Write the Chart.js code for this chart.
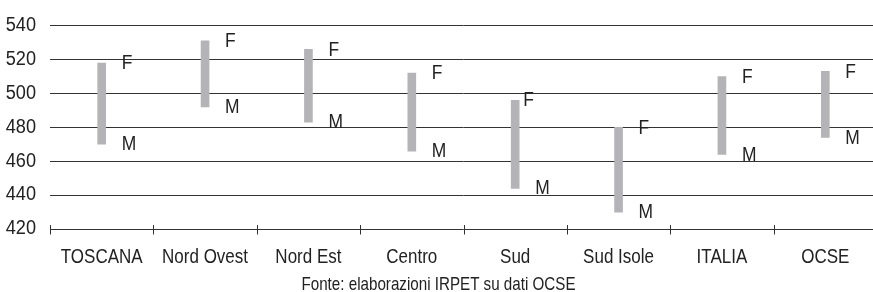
<!DOCTYPE html>
<html>
<head>
<meta charset="utf-8">
<script src="https://cdn.jsdelivr.net/npm/chart.js@4.4.1/dist/chart.umd.min.js"></script>
<style>
html, body { margin: 0; padding: 0; background: #fff; overflow: hidden; }
#wrap { width: 877px; height: 292px; }
</style>
</head>
<body>
<div id="wrap"><canvas id="c" width="877" height="292"></canvas></div>
<script>
// Data
const categories = ['TOSCANA', 'Nord Ovest', 'Nord Est', 'Centro', 'Sud', 'Sud Isole', 'ITALIA', 'OCSE'];
const femmine = [518, 531, 526, 512, 496, 480, 510, 513];
const maschi  = [470, 492, 483, 466, 444, 430, 464, 474];
const yTicks = [420, 440, 460, 480, 500, 520, 540];
const sourceNote = 'Fonte: elaborazioni IRPET su dati OCSE';

const FONT = "'Liberation Sans', Arial, sans-serif";
const TEXT = '#222222';

// Condensed look (the original uses a narrow sans): horizontal stretch per font size
const canvas = document.getElementById('c');
const ctx0 = canvas.getContext('2d');
const origFillText = ctx0.fillText;
const STRETCH = { 19.5: 0.93, 20: 0.85, 20.5: 0.85, 18.5: 0.82 };
ctx0.fillText = function (t, x, y, mw) {
  const m = /(\d+(?:\.\d+)?)px/.exec(this.font);
  const size = m ? parseFloat(m[1]) : 0;
  const sx = STRETCH[size] || 0.85;
  this.save();
  this.translate(x, y);
  this.scale(sx, 1);
  if (mw === undefined) origFillText.call(this, t, 0, 0);
  else origFillText.call(this, t, 0, 0, mw / sx);
  this.restore();
};

const endLabels = {
  id: 'endLabels',
  afterDatasetsDraw(chart) {
    const ctx = chart.ctx;
    const y = chart.scales.y;
    const meta = chart.getDatasetMeta(0);
    ctx.save();
    ctx.font = '20.5px ' + FONT;
    ctx.fillStyle = TEXT;
    ctx.textAlign = 'left';
    ctx.textBaseline = 'middle';
    meta.data.forEach((bar, i) => {
      const fOff = categories[i] === 'Sud' ? 8 : 20;
      ctx.fillText('F', bar.x + fOff, y.getPixelForValue(femmine[i]) + 0.5);
      ctx.fillText('M', bar.x + 20, y.getPixelForValue(maschi[i]) + 0.5);
    });
    ctx.restore();
  }
};

const axisTicks = {
  id: 'axisTicks',
  afterDraw(chart) {
    const ctx = chart.ctx;
    const x = chart.scales.x;
    const base = Math.round(chart.scales.y.getPixelForValue(420)) + 0.5;
    const half = (x.getPixelForValue(1) - x.getPixelForValue(0)) / 2;
    ctx.save();
    ctx.strokeStyle = '#333333';
    ctx.lineWidth = 1;
    ctx.beginPath();
    for (let i = 0; i <= categories.length; i++) {
      const px = Math.round(x.getPixelForValue(0) - half + i * 2 * half) + 0.5;
      ctx.moveTo(px, base - 4.5);
      ctx.lineTo(px, base + 5);
    }
    ctx.stroke();
    ctx.restore();
  }
};

new Chart(canvas, {
  type: 'bar',
  data: {
    labels: categories,
    datasets: [{
      data: categories.map((c, i) => [maschi[i], femmine[i]]),
      backgroundColor: '#b4b4b8',
      borderWidth: 0,
      barThickness: 8
    }]
  },
  options: {
    responsive: false,
    animation: false,
    devicePixelRatio: 1,
    layout: { padding: { top: 19, right: 0, bottom: 0, left: 0 } },
    plugins: {
      legend: { display: false },
      tooltip: { enabled: false },
      title: {
        display: true,
        position: 'bottom',
        text: sourceNote,
        color: TEXT,
        font: { family: FONT, size: 18.5, weight: 'normal', lineHeight: 1.0 },
        padding: { top: 2, bottom: -2 }
      }
    },
    scales: {
      x: {
        grid: { display: false, drawTicks: false },
        border: { display: false },
        ticks: { color: TEXT, font: { family: FONT, size: 20 }, padding: 16.5, maxRotation: 0, autoSkip: false },
        afterFit(s) { s.height = 292 - 229 - 18.5; }
      },
      y: {
        min: 420,
        max: 540,
        afterBuildTicks(s) { s.ticks = yTicks.map(v => ({ value: v })); },
        grid: { color: '#333333', lineWidth: 1, drawTicks: false },
        border: { display: false },
        ticks: { color: TEXT, font: { family: FONT, size: 19.5 }, padding: 14 },
        afterFit(s) { s.width = 50; }
      }
    }
  },
  plugins: [endLabels, axisTicks]
});
</script>
</body>
</html>
